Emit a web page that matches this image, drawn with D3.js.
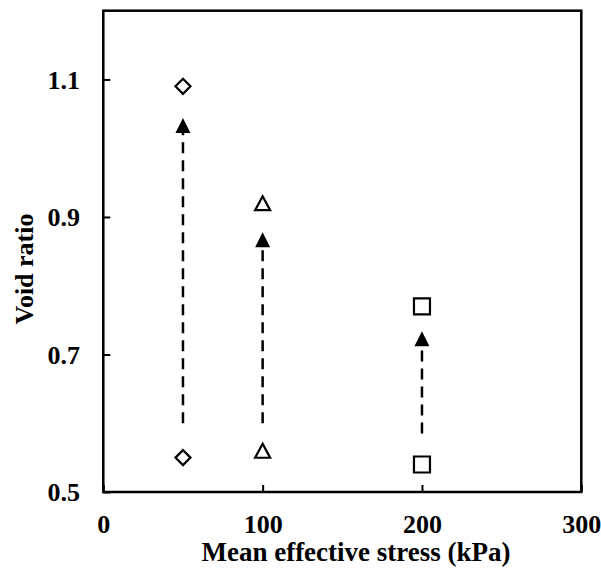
<!DOCTYPE html>
<html><head><meta charset="utf-8">
<script src="https://cdn.jsdelivr.net/npm/d3@7"></script>
<style>body{margin:0;background:#fff}</style>
</head><body><svg id="c" width="601" height="570"></svg>
<script>
// data
const stress = [50, 100, 200];                 // kPa
const shapes = ["diamond", "triangle", "square"];
const voidUpper = [1.09, 0.92, 0.77];           // open markers, upper
const voidLower = [0.55, 0.56, 0.54];           // open markers, lower
const arrowStart = [0.60, 0.60, 0.585];         // dashed arrow start
const arrowEnd = [1.033, 0.867, 0.723];         // filled triangle heads
const xTicks = [0, 100, 200, 300];
const yTicks = [0.5, 0.7, 0.9, 1.1];
const xTitle = "Mean effective stress (kPa)";
const yTitle = "Void ratio";

const svg = d3.select("#c");
const font = "'Liberation Serif','Times New Roman',serif";
const L = 103.3, R = 581.3, T = 10.7, B = 492;
const x = d3.scaleLinear().domain([0, 300]).range([L, R]);
const y = d3.scaleLinear().domain([0.5, 1.2]).range([B, T]);

// axes
const gx = svg.append("g").attr("transform", `translate(0,${B})`)
  .call(d3.axisBottom(x).tickValues(xTicks).tickSizeInner(-7).tickSizeOuter(0).tickFormat(d3.format("d")));
const gy = svg.append("g").attr("transform", `translate(${L},0)`)
  .call(d3.axisLeft(y).tickValues(yTicks).tickSizeInner(-7).tickSizeOuter(0).tickFormat(d3.format(".1f")));
[gx, gy].forEach(g => {
  g.select(".domain").remove();
  g.selectAll(".tick line").attr("stroke", "#000").attr("stroke-width", 2);
  g.selectAll(".tick text").attr("fill", "#000")
    .style("font-family", font).style("font-size", "26px").style("font-weight", "bold");
});
gx.selectAll(".tick text").attr("y", 41).attr("dy", 0);
gy.selectAll(".tick text").attr("x", -23.3).attr("dy", "0.33em");

// frame
svg.append("rect").attr("x", L).attr("y", T).attr("width", R - L).attr("height", B - T)
  .attr("fill", "none").attr("stroke", "#000").attr("stroke-width", 2.5);

// dashed arrows
const idx = d3.range(stress.length);
svg.append("g").selectAll("line").data(idx).join("line")
  .attr("x1", i => x(stress[i])).attr("x2", i => x(stress[i]))
  .attr("y1", i => y(arrowStart[i])).attr("y2", i => y(arrowEnd[i]))
  .attr("stroke", "#000").attr("stroke-width", 2.5).attr("stroke-dasharray", "11,7");

// filled triangle heads
svg.append("g").selectAll("path").data(idx).join("path")
  .attr("transform", i => `translate(${x(stress[i])},${y(arrowEnd[i])})`)
  .attr("d", "M0,-7.5L7.5,7.5L-7.5,7.5Z").attr("fill", "#000");

// open markers
function shapePath(s) {
  if (s === "diamond") return "M0,-7.5L7.5,0L0,7.5L-7.5,0Z";
  if (s === "triangle") return "M0,-7L7.5,7L-7.5,7Z";
  return "M-8,-8H8V8H-8Z";
}
const pts = [];
idx.forEach(i => { pts.push({ i, v: voidUpper[i] }); pts.push({ i, v: voidLower[i] }); });
svg.append("g").selectAll("path").data(pts).join("path")
  .attr("transform", d => `translate(${x(stress[d.i])},${y(d.v)})`)
  .attr("d", d => shapePath(shapes[d.i]))
  .attr("fill", "#fff").attr("stroke", "#000").attr("stroke-width", 2.2).attr("stroke-linejoin", "miter");

// titles
svg.append("text").attr("x", 356).attr("y", 561).attr("text-anchor", "middle")
  .style("font-family", font).style("font-size", "27px").style("font-weight", "bold").text(xTitle);
svg.append("text").attr("transform", "translate(33,269) rotate(-90)").attr("text-anchor", "middle")
  .style("font-family", font).style("font-size", "26px").style("font-weight", "bold").text(yTitle);
</script>
</body></html>
